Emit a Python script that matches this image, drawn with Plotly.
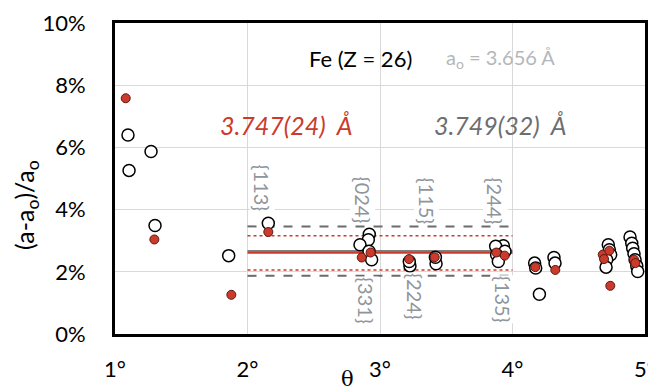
import plotly.graph_objects as go

# ---- data (theta in degrees, deviation in %) ----
open_theta = [1.098, 1.106, 1.272, 1.302, 1.858, 2.157,
              2.919, 2.912, 2.849, 2.917, 2.937,
              3.226, 3.221, 3.423, 3.418,
              3.931, 3.873, 3.943, 3.880, 3.893,
              4.167, 4.175, 4.203, 4.313, 4.321,
              4.723, 4.731, 4.741, 4.711, 4.706,
              4.887, 4.900, 4.907, 4.917, 4.925, 4.938, 4.945]
open_dev = [6.40, 5.26, 5.87, 3.49, 2.52, 3.56,
            3.21, 3.03, 2.87, 2.66, 2.39,
            2.19, 2.33, 2.26, 2.47,
            2.84, 2.82, 2.66, 2.55, 2.33,
            2.28, 2.12, 1.28, 2.46, 2.28,
            2.87, 2.71, 2.55, 2.39, 2.15,
            3.12, 2.92, 2.76, 2.58, 2.39, 2.19, 2.01]

red_theta = [1.081, 1.297, 1.878, 2.157, 2.862, 2.929, 3.219, 3.413,
             3.878, 3.941, 4.172, 4.323, 4.681, 4.731, 4.691, 4.738,
             4.917, 4.927]
red_dev = [7.58, 3.04, 1.26, 3.28, 2.46, 2.62, 2.41, 2.47,
           2.62, 2.52, 2.15, 2.06, 2.55, 2.68, 2.41, 1.55,
           2.39, 2.28]

band_theta = [2.0, 4.0]
red_mean = 2.61
red_lo, red_hi = 2.06, 3.16
gray_mean = 2.67
gray_lo, gray_hi = 1.87, 3.46

hkl_labels = ["{113}", "{024}", "{115}", "{244}", "{331}", "{224}", "{135}"]
hkl_theta = [2.109, 2.872, 3.355, 3.875, 2.894, 3.264, 3.928]
hkl_dev = [4.68, 4.32, 4.29, 4.26, 1.06, 1.19, 1.10]

x_ticks = [1, 2, 3, 4, 5]
x_tick_text = ["1°", "2°", "3°", "4°", "5°"]
y_ticks = [0, 2, 4, 6, 8, 10]
y_tick_text = ["0%", "2%", "4%", "6%", "8%", "10%"]

RED = "#cc3a2b"
FONT = "Lato"

fig = go.Figure()

def hline(y, color, width, dash):
    fig.add_trace(go.Scatter(x=band_theta, y=[y, y], mode="lines",
                             line=dict(color=color, width=width, dash=dash),
                             hoverinfo="skip", showlegend=False))

hline(gray_hi, "#6b6b6b", 2, "dash")
hline(gray_lo, "#6b6b6b", 2, "dash")
hline(red_hi, RED, 1.5, "dot")
hline(red_lo, RED, 1.5, "dot")
hline(gray_mean, "#555555", 1.5, "solid")
hline(red_mean, RED, 2, "solid")

fig.add_trace(go.Scatter(x=open_theta, y=open_dev, mode="markers",
                         marker=dict(size=12, color="white",
                                     line=dict(color="black", width=1.5)),
                         showlegend=False))
fig.add_trace(go.Scatter(x=red_theta, y=red_dev, mode="markers",
                         marker=dict(size=9, color=RED,
                                     line=dict(color="#5a1a12", width=1)),
                         showlegend=False))

for lab, xt, yv in zip(hkl_labels, hkl_theta, hkl_dev):
    fig.add_annotation(x=xt, y=yv, text=lab, showarrow=False, textangle=90,
                       font=dict(family=FONT, size=20, color="#8f959c"),
                       bgcolor="white", borderpad=0)

fig.add_annotation(xref="paper", yref="paper", x=0.464, y=0.887,
                   xanchor="center", yanchor="middle", showarrow=False,
                   text="Fe (Z = 26)", font=dict(family=FONT, size=22, color="black"))
fig.add_annotation(xref="paper", yref="paper", x=0.728, y=0.887,
                   xanchor="center", yanchor="middle", showarrow=False,
                   text="a<sub>o</sub> = 3.656 Å",
                   font=dict(family=FONT, size=20, color="#b3b7bc"))
fig.add_annotation(xref="paper", yref="paper", x=0.323, y=0.672,
                   xanchor="center", yanchor="middle", showarrow=False,
                   text="<i>3.747(24)  Å</i>",
                   font=dict(family=FONT, size=25, color=RED))
fig.add_annotation(xref="paper", yref="paper", x=0.727, y=0.672,
                   xanchor="center", yanchor="middle", showarrow=False,
                   text="<i>3.749(32)  Å</i>",
                   font=dict(family=FONT, size=25, color="#6d6e71"))
fig.add_annotation(xref="paper", yref="paper", x=0.438, y=-0.145,
                   xanchor="center", yanchor="middle", showarrow=False,
                   text="θ", font=dict(family="DejaVu Serif", size=21, color="black"))
fig.add_annotation(xref="paper", yref="paper", x=-0.168, y=0.415,
                   xanchor="center", yanchor="middle", showarrow=False, textangle=-90,
                   text="(a-a<sub>o</sub>)/a<sub>o</sub>",
                   font=dict(family=FONT, size=25, color="black"))

fig.update_xaxes(range=[1, 5], tickmode="array", tickvals=x_ticks, ticktext=x_tick_text,
                 showgrid=True, gridcolor="#d9d9d9", gridwidth=1,
                 showline=True, linecolor="black", linewidth=3, mirror=True,
                 ticks="", ticklabelstandoff=14, zeroline=False, automargin=False,
                 tickfont=dict(family=FONT, size=22, color="black"))
fig.update_yaxes(range=[0, 10], tickmode="array", tickvals=y_ticks, ticktext=y_tick_text,
                 showgrid=True, gridcolor="#d9d9d9", gridwidth=1,
                 showline=True, linecolor="black", linewidth=3, mirror=True,
                 ticks="", ticklabelstandoff=22, zeroline=False, automargin=False,
                 tickfont=dict(family=FONT, size=22, color="black"))

fig.update_layout(width=648, height=383, plot_bgcolor="white", paper_bgcolor="white",
                  margin=dict(l=107, r=11, t=15, b=57, autoexpand=False))

fig.write_html("out.html")
